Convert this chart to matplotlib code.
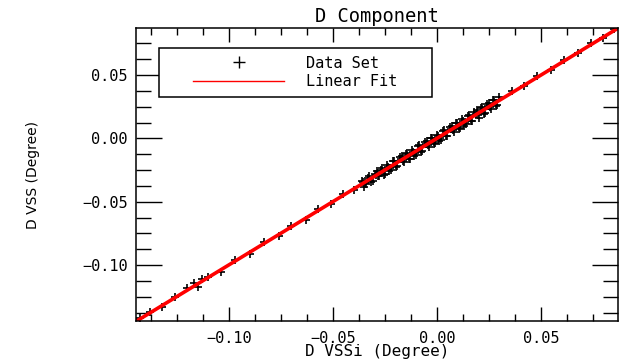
import numpy as np
import matplotlib
matplotlib.use("Agg")
import matplotlib.pyplot as plt
from matplotlib.lines import Line2D
from matplotlib.legend_handler import HandlerLine2D
from matplotlib.ticker import MultipleLocator

# D VSSi (x) vs D VSS (y), degrees
vssi_sparse = [-0.143, -0.138, -0.132, -0.126, -0.120, -0.117, -0.115, -0.113, -0.110,
               -0.104, -0.097, -0.090, -0.083, -0.076, -0.070, -0.063, -0.057, -0.051,
               -0.045, -0.040, 0.036, 0.042, 0.048, 0.055, 0.061, 0.068, 0.074, 0.080, 0.085]
vss_sparse = [-0.142, -0.137, -0.133, -0.125, -0.118, -0.114, -0.117, -0.111, -0.109,
              -0.105, -0.096, -0.091, -0.082, -0.077, -0.069, -0.064, -0.056, -0.052,
              -0.044, -0.041, 0.037, 0.041, 0.049, 0.054, 0.062, 0.067, 0.075, 0.079, 0.086]

vssi_core = [-0.036, -0.034, -0.033, -0.031, -0.030, -0.028, -0.027, -0.025, -0.024,
             -0.022, -0.021, -0.019, -0.018, -0.016, -0.015, -0.013, -0.012, -0.010,
             -0.009, -0.007, -0.006, -0.004, -0.003, -0.001, 0.000, 0.002, 0.003, 0.005,
             0.006, 0.008, 0.009, 0.011, 0.012, 0.014, 0.015, 0.017, 0.018, 0.020, 0.021,
             0.023, 0.024, 0.026, 0.027, 0.029, 0.030,
             -0.035, -0.029, -0.023, -0.017, -0.011, -0.005, 0.001, 0.007, 0.013, 0.019, 0.025]
vss_core = [-0.034, -0.036, -0.031, -0.034, -0.028, -0.030, -0.025, -0.028, -0.021,
            -0.025, -0.018, -0.022, -0.015, -0.019, -0.012, -0.016, -0.009, -0.013,
            -0.006, -0.010, -0.003, -0.007, 0.000, -0.004, 0.003, -0.001, 0.006, 0.002,
            0.009, 0.005, 0.012, 0.008, 0.015, 0.011, 0.018, 0.014, 0.021, 0.016, 0.024,
            0.020, 0.027, 0.023, 0.030, 0.026, 0.033,
            -0.038, -0.026, -0.026, -0.014, -0.014, -0.002, -0.002, 0.010, 0.010, 0.022, 0.028]

vssi_core2 = [-0.0355, -0.0345, -0.0325, -0.0315, -0.0295, -0.0285, -0.0265, -0.0255,
              -0.0235, -0.0225, -0.0205, -0.0195, -0.0175, -0.0165, -0.0145, -0.0135,
              -0.0115, -0.0105, -0.0085, -0.0075, -0.0055, -0.0045, -0.0025, -0.0015,
              0.0005, 0.0015, 0.0035, 0.0045, 0.0065, 0.0075, 0.0095, 0.0105, 0.0125,
              0.0135, 0.0155, 0.0165, 0.0185, 0.0195, 0.0215, 0.0225, 0.0245, 0.0255,
              0.0275, 0.0285]
vss_core2 = [-0.0345, -0.0355, -0.0295, -0.0345, -0.0285, -0.0295, -0.0235, -0.0285,
             -0.0225, -0.0235, -0.0175, -0.0225, -0.0165, -0.0175, -0.0115, -0.0165,
             -0.0105, -0.0115, -0.0055, -0.0105, -0.0045, -0.0055, 0.0005, -0.0045,
             0.0015, 0.0005, 0.0065, 0.0015, 0.0075, 0.0065, 0.0125, 0.0075, 0.0135,
             0.0125, 0.0185, 0.0135, 0.0195, 0.0185, 0.0245, 0.0195, 0.0255, 0.0245,
             0.0305, 0.0255]

x_range = [-0.1447, 0.0870]
y_range = [-0.1440, 0.0870]

x = np.array(vssi_sparse + vssi_core + vssi_core2)
y = np.array(vss_sparse + vss_core + vss_core2)
slope, icept = np.polyfit(x, y, 1)

mono = "DejaVu Sans Mono"

fig = plt.figure(figsize=(6.23, 3.61), dpi=100)
ax = fig.add_axes([0.2183, 0.1108, 0.7737, 0.8116])

ax.plot(x, y, ls="none", marker="+", ms=5.5, mew=1.2, color="black")
fx = np.array(x_range)
ax.plot(fx, slope * fx + icept, color="#ff0000", lw=2.6, solid_capstyle="butt")

ax.set_xlim(x_range)
ax.set_ylim(y_range)
ax.xaxis.set_major_locator(MultipleLocator(0.05))
ax.xaxis.set_minor_locator(MultipleLocator(0.0125))
ax.yaxis.set_major_locator(MultipleLocator(0.05))
ax.yaxis.set_minor_locator(MultipleLocator(0.0125))
ax.xaxis.set_major_formatter(lambda v, p: f"{v:.2f}".replace("-", "\u2212"))
ax.yaxis.set_major_formatter(lambda v, p: f"{v:.2f}".replace("-", "\u2212"))

ax.tick_params(axis="x", which="major", direction="in", length=10, width=1,
               top=True, pad=7, labelsize=11)
ax.tick_params(axis="x", which="minor", direction="in", length=5, width=1, top=True)
ax.tick_params(axis="y", which="major", direction="in", length=18.5, width=1,
               right=True, pad=6, labelsize=11)
ax.tick_params(axis="y", which="minor", direction="in", length=10.5, width=1, right=True)
for lab in ax.get_xticklabels() + ax.get_yticklabels():
    lab.set_family(mono)
for s in ax.spines.values():
    s.set_linewidth(1.1)

ax.set_title("D Component", family=mono, fontsize=13.5, pad=4)
ax.set_xlabel("D VSSi (Degree)", family=mono, fontsize=11.5, labelpad=-1)
ax.set_ylabel("D VSS (Degree)", fontsize=10)
ax.yaxis.set_label_coords(-0.199, 0.5)

handles = [Line2D([], [], ls="none", marker="+", ms=9, mew=1, color="black", label="Data Set"),
           Line2D([], [], color="#ff0000", lw=1, label="Linear Fit")]
leg = ax.legend(handles=handles, loc="upper left", bbox_to_anchor=(0.048, 0.765, 0.566, 0.167),
                mode="expand", borderaxespad=0, borderpad=0.5, handlelength=7.7,
                handletextpad=1.4, labelspacing=0.25, fancybox=False, framealpha=1,
                edgecolor="black", prop={"family": mono, "size": 11},
                handler_map={Line2D: HandlerLine2D(xpad=1.7)})
leg.get_frame().set_linewidth(1.1)

fig.savefig("out.png", dpi=100)
